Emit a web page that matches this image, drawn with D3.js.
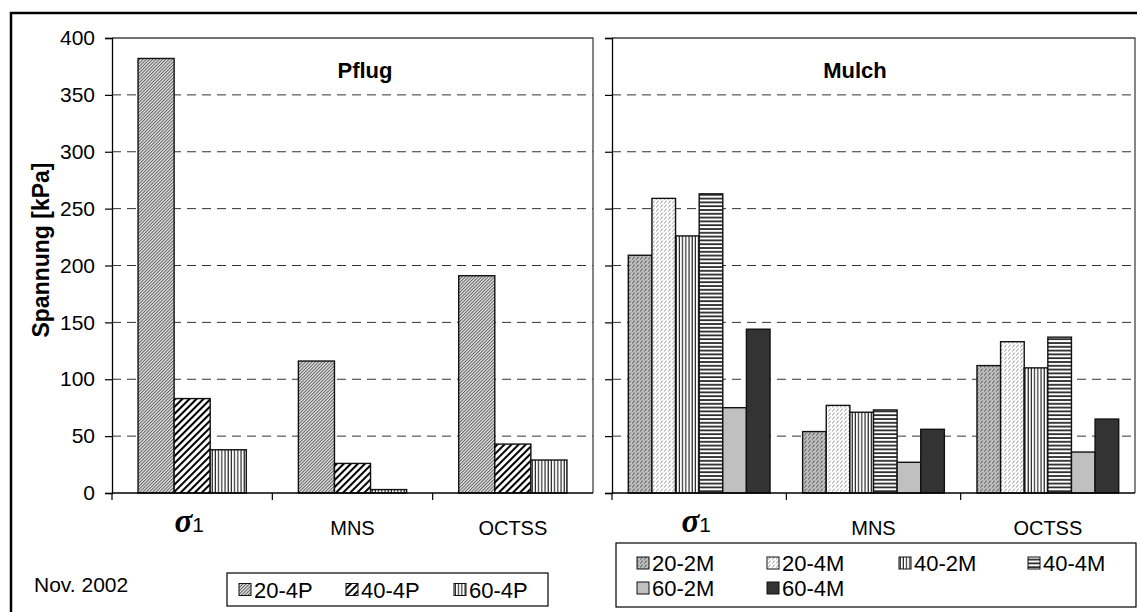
<!DOCTYPE html>
<html><head><meta charset="utf-8">
<script src="https://cdn.jsdelivr.net/npm/d3@7"></script>
<style>body{margin:0;background:#fff}svg{display:block}text{font-family:"Liberation Sans",Arial,sans-serif}</style>
</head><body>
<svg id="c" width="1137" height="612"></svg>
<script>
// ---- data ----
const categories = ["σ1", "MNS", "OCTSS"];
const yTicks = [0, 50, 100, 150, 200, 250, 300, 350, 400];
const pflugSeries = ["20-4P", "40-4P", "60-4P"];
const mulchSeries = ["20-2M", "20-4M", "40-2M", "40-4M", "60-2M", "60-4M"];
const pflug20_4P = [382, 116, 191];
const pflug40_4P = [83, 26, 43];
const pflug60_4P = [38, 3, 29];
const mulch20_2M = [209, 54, 112];
const mulch20_4M = [259, 77, 133];
const mulch40_2M = [226, 71, 110];
const mulch40_4M = [263, 73, 137];
const mulch60_2M = [75, 27, 36];
const mulch60_4M = [144, 56, 65];
const pflugValues = [pflug20_4P, pflug40_4P, pflug60_4P];
const mulchValues = [mulch20_2M, mulch20_4M, mulch40_2M, mulch40_4M, mulch60_2M, mulch60_4M];

const svg = d3.select("#c");
const defs = svg.append("defs");

function hatch(id, w, h, bg, draw, rot) {
  const p = defs.append("pattern").attr("id", id).attr("patternUnits", "userSpaceOnUse")
    .attr("width", w).attr("height", h);
  if (rot) p.attr("patternTransform", "rotate(" + rot + ")");
  p.append("rect").attr("width", w).attr("height", h).attr("fill", bg);
  draw(p);
}
hatch("p20_4P", 2.3, 3, "#e4e4e4", p => p.append("line").attr("x1", 0.5).attr("x2", 0.5).attr("y1", -1).attr("y2", 4).attr("stroke", "#5a5a5a").attr("stroke-width", 0.95), 45);
hatch("p40_4P", 5, 5, "#fff", p => p.append("line").attr("x1", 1).attr("x2", 1).attr("y1", -1).attr("y2", 6).attr("stroke", "#000").attr("stroke-width", 2.1), 45);
hatch("pVert", 3.2, 4, "#fff", p => p.append("line").attr("x1", 1).attr("x2", 1).attr("y1", 0).attr("y2", 4).attr("stroke", "#000").attr("stroke-width", 1));
hatch("pHoriz", 4, 3.8, "#fff", p => p.append("line").attr("x1", 0).attr("x2", 4).attr("y1", 1).attr("y2", 1).attr("stroke", "#000").attr("stroke-width", 1.5));
hatch("p20_2M", 4, 4, "#bdbdbd", p => p.append("path").attr("d", "M0.3,3.6L2.6,0.6").attr("stroke", "#444").attr("stroke-width", 0.9));
hatch("p20_4M", 4, 4, "#fff", p => p.append("path").attr("d", "M0.3,3.6L2.6,0.6").attr("stroke", "#888").attr("stroke-width", 0.9));

const pflugFill = ["url(#p20_4P)", "url(#p40_4P)", "url(#pVert)"];
const mulchFill = ["url(#p20_2M)", "url(#p20_4M)", "url(#pVert)", "url(#pHoriz)", "#c0c0c0", "#333333"];

// outer frame (clipped at right/bottom like the reference)
svg.append("rect").attr("x", 11).attr("y", 13).attr("width", 1160).attr("height", 640)
  .attr("fill", "none").attr("stroke", "#000").attr("stroke-width", 2.5);

const y = d3.scaleLinear().domain([0, 400]).range([493, 38]);

function panel(x0, x1, series, values, fills, groupFrac, title, titleX, showLabels) {
  const g = svg.append("g");
  const x = d3.scaleBand().domain(categories).range([x0, x1]);
  const bw = x.bandwidth();
  const inner = d3.scaleBand().domain(series).range([(bw - bw * groupFrac) / 2, (bw + bw * groupFrac) / 2]);

  // gridlines
  g.append("g").selectAll("line").data(yTicks.filter(t => t > 0 && t < 400)).join("line")
    .attr("x1", x0).attr("x2", x1).attr("y1", d => y(d)).attr("y2", d => y(d))
    .attr("stroke", "#333").attr("stroke-width", 1).attr("stroke-dasharray", "9,6");
  // plot border (top and right)
  g.append("path").attr("d", `M${x0},${y(400)}H${x1}V${y(0)}`).attr("fill", "none")
    .attr("stroke", "#444").attr("stroke-width", 1.3);

  // bars
  series.forEach((s, i) => {
    g.append("g").selectAll("rect").data(values[i]).join("rect")
      .attr("x", (d, j) => x(categories[j]) + inner(s))
      .attr("width", inner.bandwidth())
      .attr("y", d => y(d)).attr("height", d => y(0) - y(d))
      .attr("fill", fills[i]).attr("stroke", "#111").attr("stroke-width", 1.4);
  });

  // y axis
  const ya = d3.axisLeft(y).tickValues(yTicks).tickSize(7).tickPadding(10)
    .tickFormat(showLabels ? d3.format("d") : "");
  const yg = g.append("g").attr("transform", `translate(${x0},0)`).call(ya);
  yg.select(".domain").attr("stroke", "#000").attr("stroke-width", 1.3);
  yg.selectAll(".tick line").attr("stroke", "#000").attr("stroke-width", 1.2);
  yg.selectAll(".tick text").attr("font-size", 21).attr("fill", "#000")
    .attr("font-family", '"Liberation Sans",Arial,sans-serif');

  // x axis with ticks at category boundaries
  const bounds = categories.map(c => x(c)).concat([x1]);
  g.append("line").attr("x1", x0).attr("x2", x1).attr("y1", y(0)).attr("y2", y(0))
    .attr("stroke", "#000").attr("stroke-width", 1.3);
  g.append("g").selectAll("line").data(bounds.slice(0, 3)).join("line")
    .attr("x1", d => d).attr("x2", d => d).attr("y1", y(0)).attr("y2", y(0) + 7)
    .attr("stroke", "#000").attr("stroke-width", 1.2);

  // category labels
  categories.forEach(c => {
    const cx = x(c) + bw / 2;
    if (c === "σ1") {
      const t = g.append("text").attr("x", cx - 3).attr("y", 532).attr("text-anchor", "middle");
      t.append("tspan").text("σ").attr("font-family", '"Liberation Serif","Times New Roman",serif')
        .attr("font-style", "italic").attr("font-weight", "bold").attr("font-size", 33);
      t.append("tspan").text("1").attr("font-size", 21);
    } else {
      g.append("text").attr("x", cx).attr("y", 535).attr("text-anchor", "middle")
        .attr("font-size", 20).text(c);
    }
  });

  // title
  g.append("text").attr("x", titleX).attr("y", 78)
    .attr("text-anchor", "middle").attr("font-size", 22).attr("font-weight", "bold").text(title);
}

panel(112, 593, pflugSeries, pflugValues, pflugFill, 0.675, "Pflug", 365, true);
panel(612, 1135, mulchSeries, mulchValues, mulchFill, 0.813, "Mulch", 855, false);

// y title
svg.append("text").attr("transform", "translate(49,250) rotate(-90)").attr("text-anchor", "middle")
  .attr("font-size", 23).attr("font-weight", "bold").text("Spannung [kPa]");

// date
svg.append("text").attr("x", 34).attr("y", 592).attr("font-size", 21).text("Nov. 2002");

// legends
function legend(bx, by, bw, bh, series, fills, colX, rowY, cols) {
  const g = svg.append("g");
  g.append("rect").attr("x", bx).attr("y", by).attr("width", bw).attr("height", bh)
    .attr("fill", "#fff").attr("stroke", "#000").attr("stroke-width", 1.2);
  series.forEach((s, i) => {
    const cx = bx + colX[i % cols], cy = by + rowY[Math.floor(i / cols)];
    g.append("rect").attr("x", cx).attr("y", cy - 6).attr("width", 12).attr("height", 12)
      .attr("fill", fills[i]).attr("stroke", "#111").attr("stroke-width", 1);
    g.append("text").attr("x", cx + 15).attr("y", cy + 8).attr("font-size", 22).text(s);
  });
}
legend(227, 573, 321, 33, pflugSeries, pflugFill, [12, 119, 227], [16.5], 3);
legend(616, 543, 520, 64, mulchSeries, mulchFill, [21, 151, 283, 412], [20, 45], 4);
</script>
</body></html>
